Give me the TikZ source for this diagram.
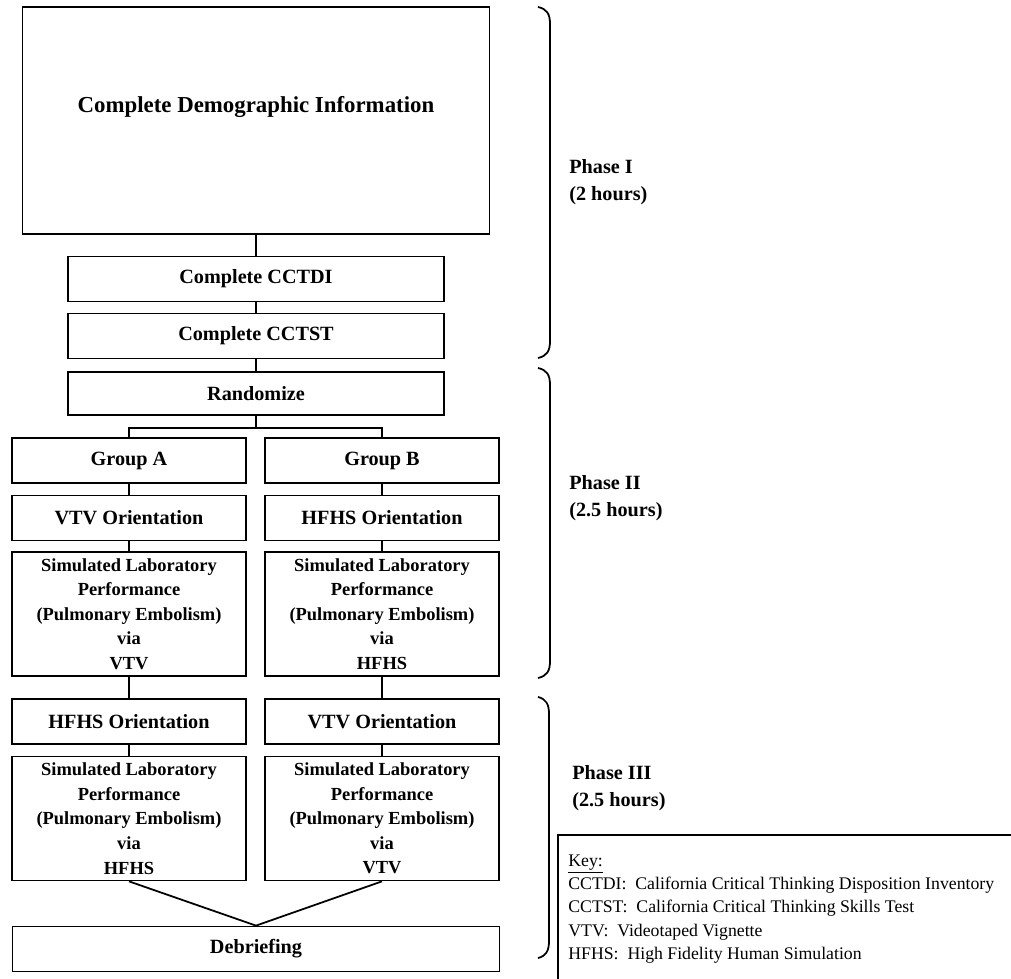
\documentclass[tikz,border=0pt]{standalone}
\usepackage{fontspec}
\setmainfont{Liberation Serif}
\begin{document}
\begin{tikzpicture}[x=0.02cm, y=-0.02cm,
	stage/.style={draw, rectangle, line width=1pt, inner sep=0pt, minimum height=0.9cm, font=\bfseries\fontsize{11.5}{14}\selectfont},
	wide/.style={stage, minimum width=7.52cm},
	half/.style={stage, minimum width=4.68cm},
	sim/.style={half, minimum height=2.48cm, align=center, font=\bfseries\fontsize{10.5}{14}\selectfont},
	phase/.style={anchor=west, align=left, inner sep=0pt, font=\bfseries\fontsize{11.5}{15.5}\selectfont},
	keytext/.style={anchor=west, align=left, inner sep=0pt, font=\fontsize{10.1}{13.3}\selectfont},
	link/.style={line width=1pt},
	brace/.style={line width=1pt} ]
		\useasboundingbox (0,0) rectangle (1011,979);
		\clip (0,0) rectangle (1011,979);

		% phase I
		\node[stage, minimum width=9.34cm, minimum height=4.54cm, label={[yshift=0.27cm, font=\bfseries\fontsize{13}{16}\selectfont]center:Complete Demographic Information}] (demo) at (256,120.5) {};
		\node[wide] (cctdi) at (256,279) {Complete CCTDI};
		\node[wide] (cctst) at (256,336) {Complete CCTST};

		% phase II
		\node[wide, minimum height=0.86cm] (rand) at (256,393.5) {Randomize};
		\node[half] (grpA) at (129,460.5) {Group A};
		\node[half] (grpB) at (382,460.5) {Group B};
		\node[half] (oriA) at (129,518) {VTV Orientation};
		\node[half] (oriB) at (382,518) {HFHS Orientation};
		\node[sim] (simA) at (129,614) {Simulated Laboratory\\Performance\\(Pulmonary Embolism)\\via\\VTV};
		\node[sim] (simB) at (382,614) {Simulated Laboratory\\Performance\\(Pulmonary Embolism)\\via\\HFHS};

		% phase III
		\node[half] (oriC) at (129,721.5) {HFHS Orientation};
		\node[half] (oriD) at (382,721.5) {VTV Orientation};
		\node[sim] (simC) at (129,818.5) {Simulated Laboratory\\Performance\\(Pulmonary Embolism)\\via\\HFHS};
		\node[sim] (simD) at (382,818.5) {Simulated Laboratory\\Performance\\(Pulmonary Embolism)\\via\\VTV};
		\node[stage, minimum width=9.74cm] (deb) at (256,949) {Debriefing};

		\draw[link] (demo) -- (cctdi);
		\draw[link] (cctdi) -- (cctst);
		\draw[link] (cctst) -- (rand);
		\draw[link] (rand.south) -- ++(0,12) -| (grpA.north);
		\draw[link] (rand.south) -- ++(0,12) -| (grpB.north);
		\draw[link] (grpA) -- (oriA);
		\draw[link] (grpB) -- (oriB);
		\draw[link] (oriA) -- (simA);
		\draw[link] (oriB) -- (simB);
		\draw[link] (simA) -- (oriC);
		\draw[link] (simB) -- (oriD);
		\draw[link] (oriC) -- (simC);
		\draw[link] (oriD) -- (simD);
		\draw[link] (simC.south) -- (deb.north);
		\draw[link] (simD.south) -- (deb.north);

		% braces
		\draw[brace] (538,7) .. controls (547,9) and (550,14) .. (550,24) -- (550,341) .. controls (550,351) and (547,356) .. (538,358);
		\draw[brace] (538,368) .. controls (547,370) and (550,375) .. (550,385) -- (550,661) .. controls (550,671) and (547,676) .. (538,678);
		\draw[brace] (538,697) .. controls (546,699) and (549,704) .. (549,714) -- (549,941) .. controls (549,951) and (546,956) .. (538,958);

		\node[phase] (ph1) at (569,182.5) {Phase I\\(2 hours)};
		\node[phase] (ph2) at (569,498.5) {Phase II\\(2.5 hours)};
		\node[phase] (ph3) at (572,788.5) {Phase III\\(2.5 hours)};

		% key
		\draw[link] (558,835) rectangle (1040,1000);
		\node[keytext] (key) at (568,909) {\underline{Key:}\\CCTDI:~ California Critical Thinking Disposition Inventory\\CCTST:~ California Critical Thinking Skills Test\\VTV:~ Videotaped Vignette\\HFHS:~ High Fidelity Human Simulation};
	\end{tikzpicture}
\end{document}
